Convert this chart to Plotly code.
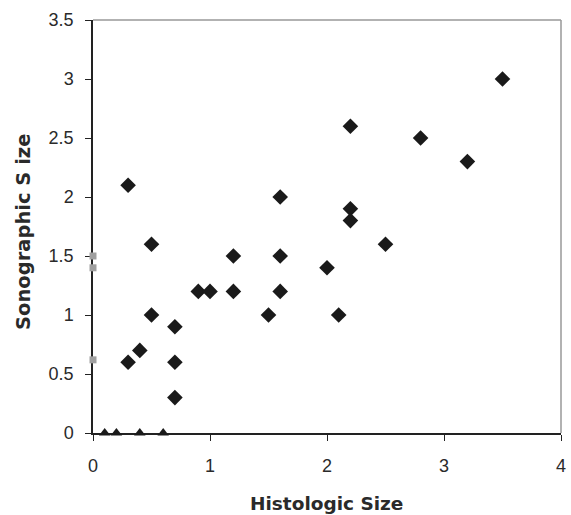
import plotly.graph_objects as go

# Diamonds (main series)
hist_size = [0.3, 0.3, 0.4, 0.5, 0.5, 0.7, 0.7, 0.7, 0.9, 1.0, 1.2, 1.2, 1.5,
             1.6, 1.6, 1.6, 2.0, 2.1, 2.2, 2.2, 2.2, 2.5, 2.8, 3.2, 3.5]
sono_size = [2.1, 0.6, 0.7, 1.6, 1.0, 0.9, 0.6, 0.3, 1.2, 1.2, 1.5, 1.2, 1.0,
             2.0, 1.5, 1.2, 1.4, 1.0, 2.6, 1.9, 1.8, 1.6, 2.5, 2.3, 3.0]

# Triangles (not seen sonographically)
tri_hist = [0.1, 0.2, 0.4, 0.6]
tri_sono = [0, 0, 0, 0]

# Gray squares (no histologic size)
sq_hist = [0, 0, 0]
sq_sono = [1.5, 1.4, 0.62]

x_ticks = [0, 1, 2, 3, 4]
y_ticks = [0, 0.5, 1, 1.5, 2, 2.5, 3, 3.5]
y_tick_labels = ["0", "0.5", "1", "1.5", "2", "2.5", "3", "3.5"]
x_title = "Histologic Size"
y_title = "Sonographic S ize"

fig = go.Figure()
fig.add_trace(go.Scatter(x=hist_size, y=sono_size, mode="markers",
                         marker=dict(symbol="diamond", size=12, color="#1a1a1a"),
                         cliponaxis=False))
fig.add_trace(go.Scatter(x=tri_hist, y=tri_sono, mode="markers",
                         marker=dict(symbol="triangle-up", size=10, color="#1a1a1a"),
                         cliponaxis=False))
fig.add_trace(go.Scatter(x=sq_hist, y=sq_sono, mode="markers",
                         marker=dict(symbol="square", size=7, color="#a0a0a0"),
                         cliponaxis=False))

tick_font = "Liberation Sans, Arial, sans-serif"
title_font = "DejaVu Sans, Verdana, sans-serif"
L, R, T, B = 93, 10, 20, 82
W, H = 571, 515
pw, ph = W - L - R, H - T - B

fig.update_layout(
    width=W, height=H,
    margin=dict(l=L, r=R, t=T, b=B),
    paper_bgcolor="white", plot_bgcolor="rgba(0,0,0,0)",
    showlegend=False,
    font=dict(family=tick_font, size=16, color="#333333"),
    xaxis=dict(range=[0, 4], tickvals=x_ticks, ticktext=[str(v) for v in x_ticks],
               showgrid=False, zeroline=False, showline=True, linecolor="#222222",
               linewidth=1.5, ticks="outside", ticklen=6, tickcolor="#222222",
               automargin=False, ticklabelstandoff=10, layer="below traces",
               tickfont=dict(size=18, color="#2a2a2a")),
    yaxis=dict(range=[0, 3.5], tickvals=y_ticks, ticktext=y_tick_labels,
               showgrid=False, zeroline=False, showline=True, linecolor="#222222",
               linewidth=1.5, ticks="outside", ticklen=6, tickcolor="#222222",
               automargin=False, ticklabelstandoff=8, layer="below traces",
               tickfont=dict(size=18, color="#2a2a2a")),
    annotations=[
        dict(text="<b>%s</b>" % x_title, xref="paper", yref="paper",
             x=(326 - L) / pw, y=(H - B - 503) / ph, xanchor="center", yanchor="middle",
             borderpad=0, showarrow=False,
             font=dict(family=title_font, size=18.5, color="#2a2a2a")),
        dict(text="<b>%s</b>" % y_title, xref="paper", yref="paper",
             x=(23 - L) / pw, y=(H - B - 232) / ph, xanchor="center", yanchor="middle",
             textangle=-90, borderpad=0, showarrow=False,
             font=dict(family=title_font, size=19.5, color="#2a2a2a")),
    ],
    shapes=[
        dict(type="line", xref="paper", yref="paper", x0=0, x1=1, y0=1, y1=1,
             layer="below", line=dict(color="#999999", width=1.5)),
        dict(type="line", xref="paper", yref="paper", x0=1, x1=1, y0=0, y1=1,
             layer="below", line=dict(color="#999999", width=1.5)),
    ],
)

html = fig.to_html(include_plotlyjs=True, full_html=True,
                   config={"displayModeBar": False})
html = html.replace("<head>", "<head><style>html,body{margin:0;padding:0;}</style>", 1)
with open("out.html", "w", encoding="utf-8") as f:
    f.write(html)
